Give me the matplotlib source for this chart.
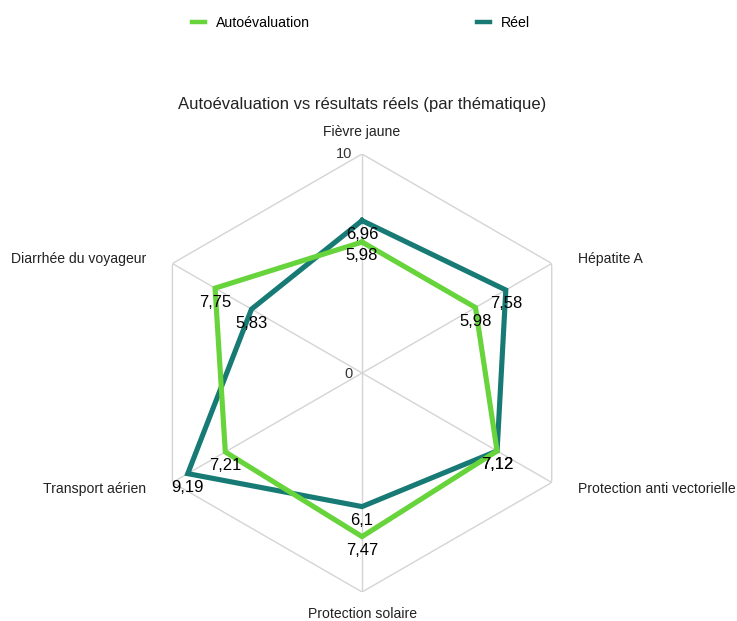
import numpy as np
import matplotlib
matplotlib.use("Agg")
import matplotlib.pyplot as plt
from matplotlib.lines import Line2D

categories = ["Fièvre jaune", "Hépatite A", "Protection anti vectorielle",
              "Protection solaire", "Transport aérien", "Diarrhée du voyageur"]
auto_vals = [5.98, 5.98, 7.12, 7.47, 7.21, 7.75]
reel_vals = [6.96, 7.58, 7.12, 6.10, 9.19, 5.83]
series_names = ["Autoévaluation", "Réel"]
title = "Autoévaluation vs résultats réels (par thématique)"

GREEN = "#66d43a"
TEAL = "#177a74"
GRID = "#d4d4d4"

plt.rcParams['font.family'] = ['Liberation Sans', 'DejaVu Sans']

fig = plt.figure(figsize=(7.37, 6.21), dpi=100)
ax = fig.add_axes([0.1941, 0.0467, 0.5943, 0.7053], projection='polar')
ax.set_theta_offset(np.pi / 2)
ax.set_theta_direction(-1)
ax.set_ylim(0, 10)
ax.grid(False)
ax.spines['polar'].set_visible(False)
ax.set_xticks([])
ax.set_yticks([])
ax.patch.set_visible(False)

n = len(categories)
angles = np.arange(n) * 2 * np.pi / n
closed = np.append(angles, angles[0])

# grid: outer hexagon + spokes
ax.plot(closed, [10] * (n + 1), color=GRID, lw=1.0, zorder=1)
for a in angles:
    ax.plot([a, a], [0, 10], color=GRID, lw=1.0, zorder=1)

def fmt(v):
    s = ("%.2f" % v).rstrip('0').rstrip('.')
    return s.replace('.', ',')

ax.plot(closed, np.append(reel_vals, reel_vals[0]), color=TEAL, lw=3.7,
        solid_joinstyle='miter', zorder=3)
ax.plot(closed, np.append(auto_vals, auto_vals[0]), color=GREEN, lw=3.7,
        solid_joinstyle='miter', zorder=4)

for vals in (reel_vals, auto_vals):
    for a, v in zip(angles, vals):
        ax.annotate(fmt(v), (a, v), xytext=(0, -10), textcoords='offset points',
                    ha='center', va='center', fontsize=12, color='black', zorder=5)

# axis scale labels
ax.annotate("10", (0, 10), xytext=(-13, 0), textcoords='offset points',
            ha='center', va='center', fontsize=10.5, color='#333333')
ax.annotate("0", (0, 0), xytext=(-10, -1), textcoords='offset points',
            ha='center', va='center', fontsize=10.5, color='#333333')

# category labels
offsets = [(0, 16, 'center'), (19, 3, 'left'), (19, -5, 'left'),
           (0, -15.5, 'center'), (-19, -5, 'right'), (-19, 3, 'right')]
for a, c, (dx, dy, ha) in zip(angles, categories, offsets):
    ax.annotate(c, (a, 10), xytext=(dx, dy), textcoords='offset points',
                ha=ha, va='center', fontsize=10.1, color='#222222')

fig.text(0.4912, 0.832, title, ha='center', va='center', fontsize=12, color='#222222')

handles = [Line2D([], [], color=GREEN, lw=3.2), Line2D([], [], color=TEAL, lw=3.2)]
fig.legend(handles, series_names, loc='center', bbox_to_anchor=(0.49, 0.963),
           ncol=2, frameon=False, fontsize=10.2, handlelength=0.9,
           handletextpad=0.8, columnspacing=11.8)

fig.savefig("out.png", dpi=100)
